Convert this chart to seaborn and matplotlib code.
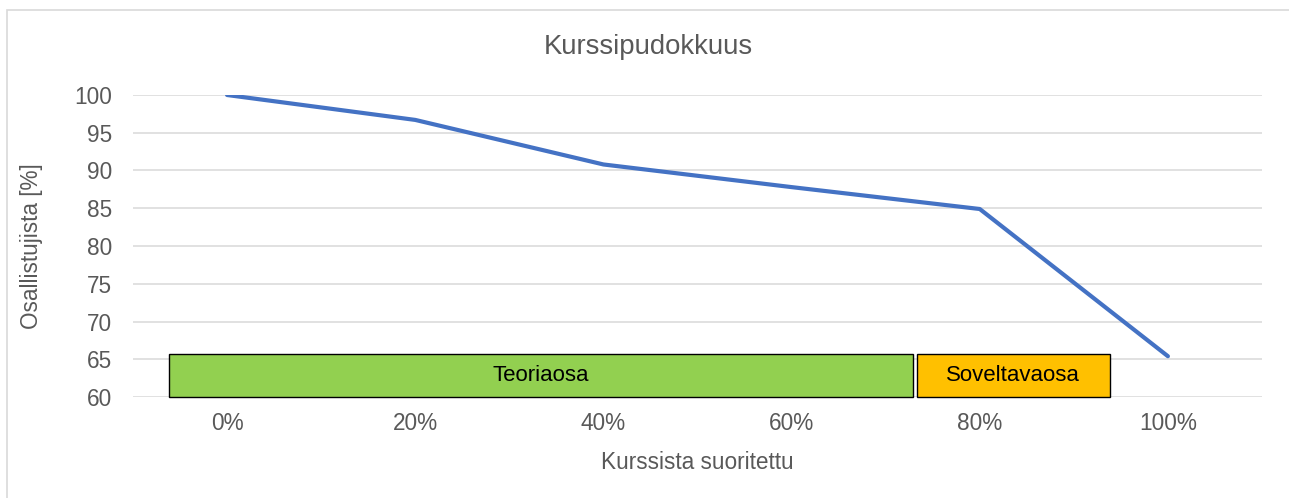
import matplotlib
matplotlib.use("Agg")
import matplotlib.pyplot as plt
import seaborn as sns
import pandas as pd
from matplotlib.patches import Rectangle

categories = ["0%", "20%", "40%", "60%", "80%", "100%"]
values = [100.0, 96.7, 90.8, 87.8, 84.9, 65.4]
y_ticks = [60, 65, 70, 75, 80, 85, 90, 95, 100]
phase_labels = ["Teoriaosa", "Soveltavaosa"]
phase_start = [-0.31, 3.665]
phase_end = [3.645, 4.69]
phase_top = [65.7, 65.7]
phase_colors = ["#92d050", "#ffc000"]

sns.set_theme(style="white")
plt.rcParams['font.family'] = ['Liberation Sans', 'DejaVu Sans']

W, H = 1289, 498
fig = plt.figure(figsize=(W / 100, H / 100), dpi=100)
ax = fig.add_axes([133 / W, 1 - 397 / H, (1262 - 133) / W, 302 / H])

df = pd.DataFrame({"pos": list(range(len(categories))), "val": values})
sns.lineplot(data=df, x="pos", y="val", ax=ax, color="#4472c4", linewidth=3.0,
             solid_capstyle="round", solid_joinstyle="round", zorder=3)

ax.set_xlim(-0.5, len(categories) - 0.5)
ax.set_ylim(60, 100)
ax.set_yticks(y_ticks)
ax.set_yticklabels([str(t) for t in y_ticks])
ax.set_xticks(range(len(categories)))
ax.set_xticklabels(categories)
ax.grid(axis="y", color="#d9d9d9", linewidth=1.1, zorder=0)
ax.grid(axis="x", visible=False)
for s in ax.spines.values():
    s.set_visible(False)
ax.tick_params(axis="both", length=0, labelsize=16.3, colors="#595959")
ax.tick_params(axis="x", pad=11)
ax.tick_params(axis="y", pad=15)

for lab, x0, x1, top, col in zip(phase_labels, phase_start, phase_end, phase_top, phase_colors):
    r = Rectangle((x0, 60), x1 - x0, top - 60, facecolor=col, edgecolor="black",
                  linewidth=1.0, zorder=4, clip_on=False)
    ax.add_patch(r)
    ax.text((x0 + x1) / 2, (60 + top) / 2, lab, ha="center", va="center",
            fontsize=16, color="black", zorder=5)

ax.set_xlabel("")
ax.set_ylabel("")
fig.text(697 / W, 1 - 462 / H, "Kurssista suoritettu", ha="center", va="center",
         fontsize=16.3, color="#595959")
fig.text(32 / W, 1 - 246 / H, "Osallistujista [%]", ha="center", va="center",
         rotation=90, fontsize=16.3, color="#595959")
fig.text(648 / W, 1 - 47 / H, "Kurssipudokkuus", ha="center", va="center",
         fontsize=19.8, color="#595959")

border = Rectangle((7 / W, -0.1), 1.2, 1 - 10 / H + 0.1, transform=fig.transFigure,
                   facecolor="none", edgecolor="#d9d9d9", linewidth=1.2)
fig.patches.append(border)

fig.savefig("out.png", dpi=100)
